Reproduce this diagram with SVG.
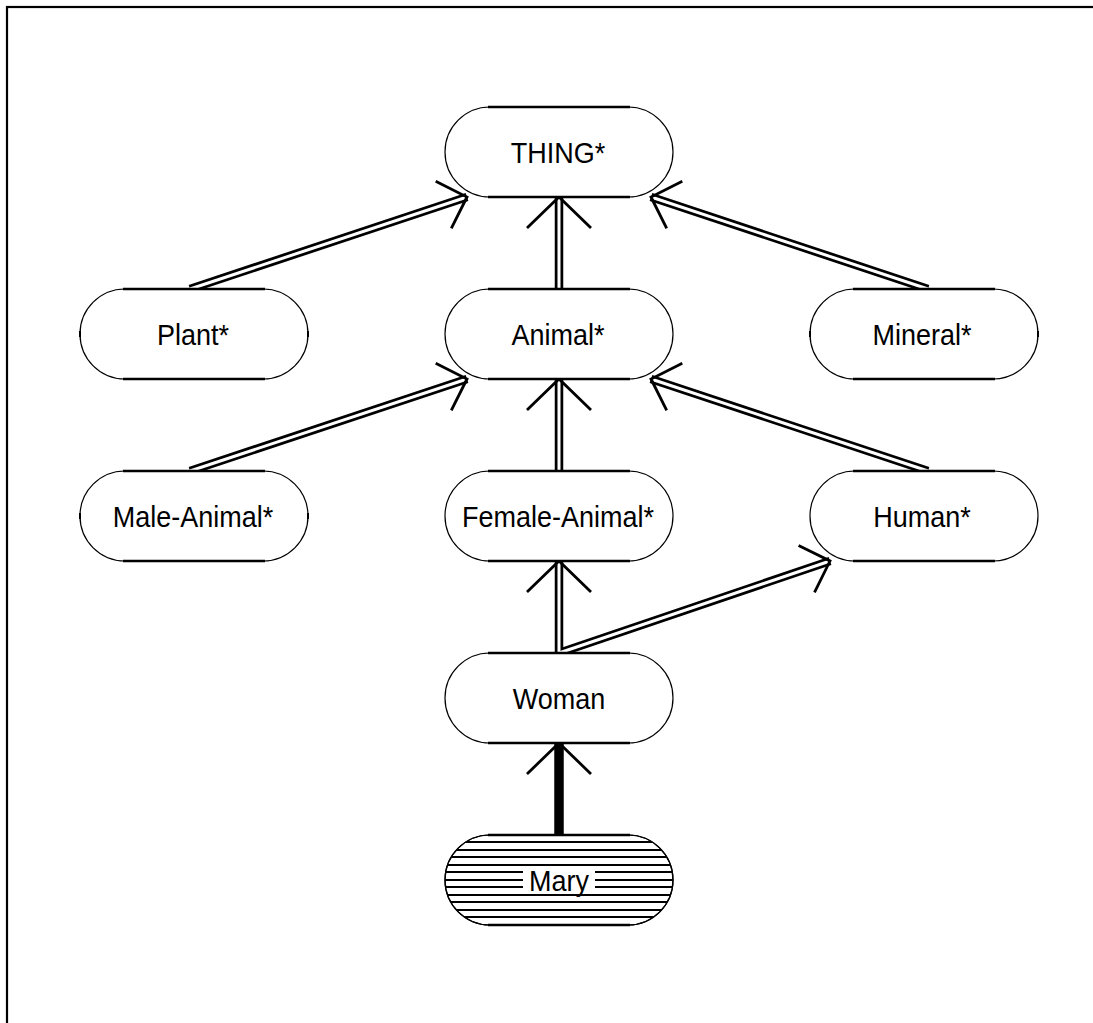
<svg xmlns="http://www.w3.org/2000/svg" width="1093" height="1023" viewBox="0 0 1093 1023">
  <defs>
    <style>
      .frame { fill: none; stroke: #000; stroke-width: 2.2; }
      .shape { fill: #fff; stroke: #000; stroke-width: 1.2; }
      .edge { stroke: #000; stroke-width: 2.6; fill: none; }
      .tick { stroke: #000; stroke-width: 2; fill: none; }
      .label { font-family: "Liberation Sans", Arial, sans-serif; font-size: 30px; fill: #000; text-anchor: middle; }
      .shaft-outer { stroke: #000; stroke-width: 8.5; fill: none; stroke-linecap: butt; }
      .shaft-inner { stroke: #fff; stroke-width: 3; fill: none; stroke-linecap: butt; }
      .head { stroke: #000; stroke-width: 2.8; fill: none; stroke-linecap: butt; stroke-linejoin: miter; }
      .inst { stroke: #000; stroke-width: 9.5; fill: none; }
      .hatch { stroke: #000; stroke-width: 2; }
    </style>
    <clipPath id="maryClip">
      <rect x="445" y="835" width="228" height="90" rx="45" ry="45"/>
    </clipPath>
  </defs>

  <!-- outer frame (only top and left edges fall inside the view) -->
  <rect class="frame" x="7" y="7" width="1200" height="1200"/>

  <!-- connectors -->
  <g id="connectors">
    <!-- subclass links: double shaft -->
    <g id="shafts">
      <path class="shaft-outer" d="M559 289 V197"/>
      <path class="shaft-outer" d="M190 289 L467 197"/>
      <path class="shaft-outer" d="M928 289 L651 197"/>
      <path class="shaft-outer" d="M559 471 V379"/>
      <path class="shaft-outer" d="M190 471 L467 379"/>
      <path class="shaft-outer" d="M928 471 L651 379"/>
      <path class="shaft-outer" d="M559 653 V561"/>
      <path class="shaft-outer" d="M559 653 L830 561"/>

      <path class="shaft-inner" d="M559 289 V197"/>
      <path class="shaft-inner" d="M190 289 L467 197"/>
      <path class="shaft-inner" d="M928 289 L651 197"/>
      <path class="shaft-inner" d="M559 471 V379"/>
      <path class="shaft-inner" d="M190 471 L467 379"/>
      <path class="shaft-inner" d="M928 471 L651 379"/>
      <path class="shaft-inner" d="M559 653 V561"/>
      <path class="shaft-inner" d="M559 653 L830 561"/>
    </g>
    <!-- instance link: heavy shaft -->
    <path class="inst" d="M559 835 V743"/>
    <!-- open arrowheads -->
    <g id="heads">
      <path class="head" d="M527 228 L559 197 L591 228"/>
      <path class="head" d="M435.7 181.3 L467 197 L451.3 228.3"/>
      <path class="head" d="M682.3 181.3 L651 197 L666.7 228.3"/>
      <path class="head" d="M527 410 L559 379 L591 410"/>
      <path class="head" d="M435.7 363.3 L467 379 L451.3 410.3"/>
      <path class="head" d="M682.3 363.3 L651 379 L666.7 410.3"/>
      <path class="head" d="M527 592 L559 561 L591 592"/>
      <path class="head" d="M798.6 545.5 L830 561 L814.5 592.4"/>
      <path class="head" d="M527 774 L559 743 L591 774"/>
    </g>
  </g>

  <!-- nodes -->
  <g id="thing">
    <rect class="shape" x="445" y="107" width="228" height="90" rx="45" ry="45"/>
    <path class="edge" d="M488 107 H630 M488 197 H630"/>
    <text class="label" transform="translate(558 163) scale(0.9 1)">THING*</text>
  </g>

  <g id="plant">
    <rect class="shape" x="80" y="289" width="228" height="90" rx="45" ry="45"/>
    <path class="edge" d="M123 289 H265 M123 379 H265"/>
    <path class="tick" d="M80 331 V337 M308 331 V337"/>
    <text class="label" transform="translate(193 345) scale(0.9 1)">Plant*</text>
  </g>

  <g id="animal">
    <rect class="shape" x="445" y="289" width="228" height="90" rx="45" ry="45"/>
    <path class="edge" d="M488 289 H630 M488 379 H630"/>
    <text class="label" transform="translate(558 345) scale(0.9 1)">Animal*</text>
  </g>

  <g id="mineral">
    <rect class="shape" x="810" y="289" width="228" height="90" rx="45" ry="45"/>
    <path class="edge" d="M853 289 H995 M853 379 H995"/>
    <path class="tick" d="M810 331 V337 M1038 331 V337"/>
    <text class="label" transform="translate(922 345) scale(0.9 1)">Mineral*</text>
  </g>

  <g id="male-animal">
    <rect class="shape" x="80" y="471" width="228" height="90" rx="45" ry="45"/>
    <path class="edge" d="M123 471 H265 M123 561 H265"/>
    <path class="tick" d="M80 513 V519 M308 513 V519"/>
    <text class="label" transform="translate(193 527) scale(0.9 1)">Male-Animal*</text>
  </g>

  <g id="female-animal">
    <rect class="shape" x="445" y="471" width="228" height="90" rx="45" ry="45"/>
    <path class="edge" d="M488 471 H630 M488 561 H630"/>
    <text class="label" transform="translate(558 527) scale(0.9 1)">Female-Animal*</text>
  </g>

  <g id="human">
    <rect class="shape" x="810" y="471" width="228" height="90" rx="45" ry="45"/>
    <path class="edge" d="M853 471 H995 M853 561 H995"/>
    <text class="label" transform="translate(922 527) scale(0.9 1)">Human*</text>
  </g>

  <g id="woman">
    <rect class="shape" x="445" y="653" width="228" height="90" rx="45" ry="45"/>
    <path class="edge" d="M488 653 H630 M488 743 H630"/>
    <text class="label" transform="translate(559 709) scale(0.9 1)">Woman</text>
  </g>

  <!-- individual: hatched -->
  <g id="mary">
    <rect class="shape" x="445" y="835" width="228" height="90" rx="45" ry="45"/>
    <g clip-path="url(#maryClip)">
      <path class="hatch" d="M445 842 H673 M445 850 H673 M445 857 H673 M445 865 H673 M445 872 H673 M445 880 H673 M445 887 H673 M445 895 H673 M445 902 H673 M445 910 H673 M445 917 H673"/>
    </g>
    <rect x="523" y="868" width="72" height="24" fill="#fff"/>
    <rect x="445" y="835" width="228" height="90" rx="45" ry="45" fill="none" stroke="#000" stroke-width="1.2"/>
    <path class="edge" d="M488 835 H630 M488 925 H630"/>
    <text class="label" transform="translate(559 891) scale(0.9 1)">Mary</text>
  </g>
</svg>
